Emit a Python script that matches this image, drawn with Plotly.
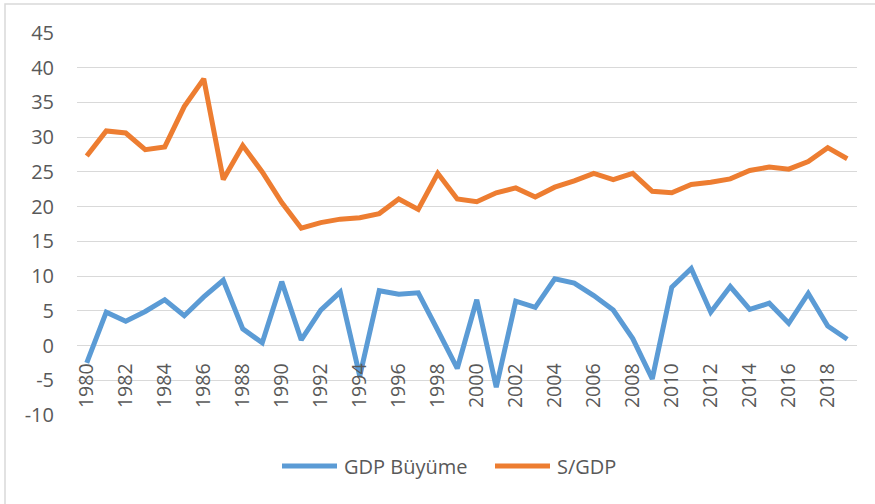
import plotly.graph_objects as go

years = list(range(1980, 2020))
gdp_growth = [-2.5, 4.8, 3.5, 4.9, 6.6, 4.3, 7.0, 9.4, 2.4, 0.4,
              9.2, 0.8, 5.1, 7.7, -4.4, 7.9, 7.4, 7.6, 2.2, -3.3,
              6.6, -6.0, 6.4, 5.5, 9.6, 9.0, 7.2, 5.1, 1.0, -4.8,
              8.4, 11.1, 4.8, 8.5, 5.2, 6.1, 3.2, 7.5, 2.8, 0.9]
s_gdp = [27.3, 30.9, 30.6, 28.2, 28.6, 34.4, 38.4, 23.9, 28.8, 25.0,
         20.6, 16.9, 17.7, 18.2, 18.4, 19.0, 21.1, 19.6, 24.8, 21.1,
         20.7, 22.0, 22.7, 21.4, 22.8, 23.7, 24.8, 23.9, 24.8, 22.2,
         22.0, 23.2, 23.5, 24.0, 25.2, 25.7, 25.4, 26.5, 28.5, 26.9]
x_tick_vals = list(range(1980, 2020, 2))
x_tick_text = [str(v) for v in x_tick_vals]
y_tick_vals = list(range(-10, 50, 5))
y_tick_text = [str(v) for v in y_tick_vals]
series_names = ["GDP Büyüme", "S/GDP"]
colors = ["#5B9BD5", "#ED7D31"]

W, H = 875, 504
L, R, T, B = 77, 857, 33, 415
pw, ph = R - L, B - T


def px_x(px):
    return (px - L) / pw


def px_y(py):
    return (B - py) / ph


fig = go.Figure()
for name, vals, col in zip(series_names, [gdp_growth, s_gdp], colors):
    fig.add_trace(go.Scatter(x=years, y=vals, mode="lines", name=name,
                             line=dict(color=col, width=5), showlegend=False))

ymin, ymax = -10, 45
zero_pos = (0 - ymin) / (ymax - ymin)

font_family = "Open Sans, Lato, sans-serif"
txt_col = "#595959"

fig.update_layout(
    width=W, height=H,
    margin=dict(l=L, r=W - R, t=T, b=H - B, pad=0),
    paper_bgcolor="white", plot_bgcolor="white",
    font=dict(family=font_family, color=txt_col, size=20),
    showlegend=False,
    xaxis=dict(range=[1979.5, 2019.5], tickmode="array", tickvals=x_tick_vals,
               ticktext=x_tick_text, tickangle=-90, showgrid=False, zeroline=False,
               showline=False, ticks="", anchor="free", position=zero_pos,
               ticklabelstandoff=13, automargin=False,
               tickfont=dict(size=19.5, color=txt_col)),
    yaxis=dict(range=[ymin, ymax], tickmode="array", tickvals=y_tick_vals,
               ticktext=y_tick_text,
               showgrid=True, gridcolor="#D9D9D9", gridwidth=1.3, zeroline=False,
               showline=False, ticks="", ticklabelstandoff=22, automargin=False,
               tickfont=dict(size=20, color=txt_col)),
)

# manual legend (Excel-style long line samples)
legend_y = px_y(466)
legend_items = [(282, 337, 342), (495, 550, 555)]
for (x0, x1, xt), name, col in zip(legend_items, series_names, colors):
    fig.add_shape(type="line", xref="paper", yref="paper",
                  x0=px_x(x0), x1=px_x(x1), y0=legend_y, y1=legend_y,
                  line=dict(color=col, width=5))
    fig.add_annotation(xref="paper", yref="paper", x=px_x(xt), y=legend_y,
                       text=name, showarrow=False, xanchor="left", yanchor="middle",
                       font=dict(size=20, color=txt_col, family=font_family))

# chart area border (Excel style), extends past the right/bottom edges
fig.add_shape(type="rect", xref="paper", yref="paper",
              x0=px_x(5), x1=px_x(W + 10),
              y0=px_y(H + 10), y1=px_y(4),
              line=dict(color="#D9D9D9", width=1.5), fillcolor="rgba(0,0,0,0)",
              layer="below")

fig.write_html("out.html",
               config={"displayModeBar": False},
               post_script="document.body.style.margin='0';document.body.style.padding='0';")
